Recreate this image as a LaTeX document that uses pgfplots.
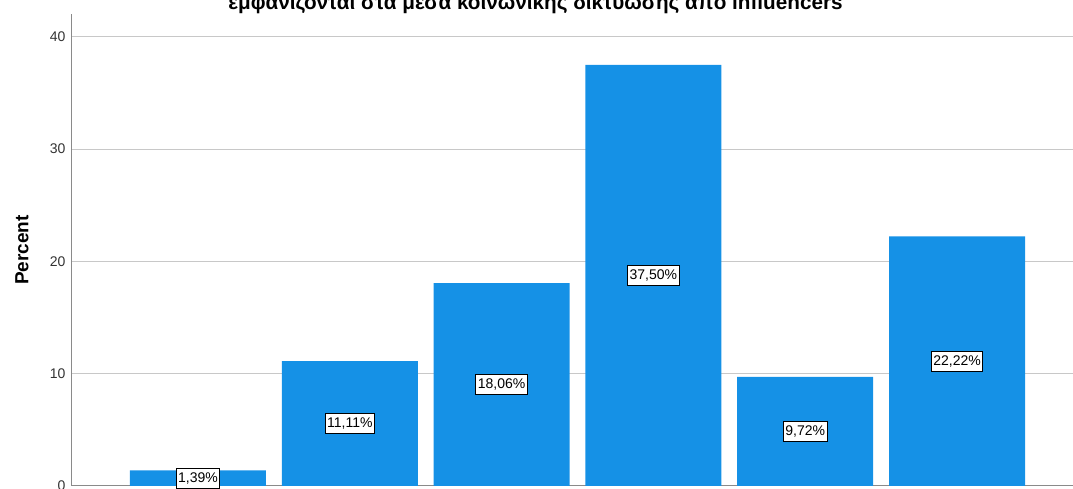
\documentclass[border=0pt]{standalone}
\usepackage{fontspec}
\setmainfont{Liberation Sans}
\usepackage{pgfplots}
\pgfplotsset{compat=1.18}
\definecolor{barblue}{HTML}{1591E6}
\definecolor{gridgray}{HTML}{C8C8C8}
\definecolor{axisgray}{HTML}{8A8A8A}
\definecolor{ticktext}{HTML}{333333}
\begin{document}
\begin{tikzpicture}
	\begin{axis}[
			name=ax,
			scale only axis,
			width=1001bp, height=472bp,
			xmin=0.17, xmax=6.764,
			ymin=0, ymax=42.03,
			axis lines=left,
			axis line style={axisgray, line width=1bp, -},
			xtick=\empty,
			ytick={0,10,20,30,40},
			ymajorgrids=true,
			grid style={gridgray, line width=1bp},
			major tick length=0pt,
			tick label style={font=\fontsize{14bp}{16bp}\selectfont, text=ticktext},
			yticklabel style={xshift=-3bp},
			/pgf/number format/assume math mode=true,
			ylabel={\textbf{Percent}},
			every axis y label/.style={at={(axis description cs:0,0.5)}, rotate=90, anchor=center,
				yshift=50bp, font=\fontsize{19bp}{22bp}\selectfont},
		]
		\addplot[
			ybar, bar width=136bp, fill=barblue, draw=none,
			visualization depends on=rawy \as \rawy,
			nodes near coords={\pgfmathprintnumber[use comma,fixed,fixed zerofill,precision=2]{\pgfplotspointmeta}\%},
			every node near coord/.append style={
				anchor=center, shift={(axis direction cs:0,-\rawy/2)},
				fill=white, draw=black, line width=0.8bp,
				font=\fontsize{14bp}{16bp}\selectfont, text=black,
				inner xsep=2bp, inner ysep=4bp},
		] coordinates {
			(1,1.39)
			(2,11.11)
			(3,18.06)
			(4,37.50)
			(5,9.72)
			(6,22.22)
		};
	\end{axis}
	% title: only its lower part shows in the cropped reference
	\node[anchor=base, inner sep=0pt, font=\fontsize{20.7bp}{24bp}\selectfont\bfseries]
		at ([shift={(463.5bp,476bp)}]ax.south west)
		{εμφανίζονται στα μέσα κοινωνικής δικτύωσης από influencers};
	\pgfresetboundingbox
	\useasboundingbox ([shift={(-72bp,-3bp)}]ax.south west) rectangle ([shift={(1001bp,486bp)}]ax.south west);
\end{tikzpicture}
\end{document}
